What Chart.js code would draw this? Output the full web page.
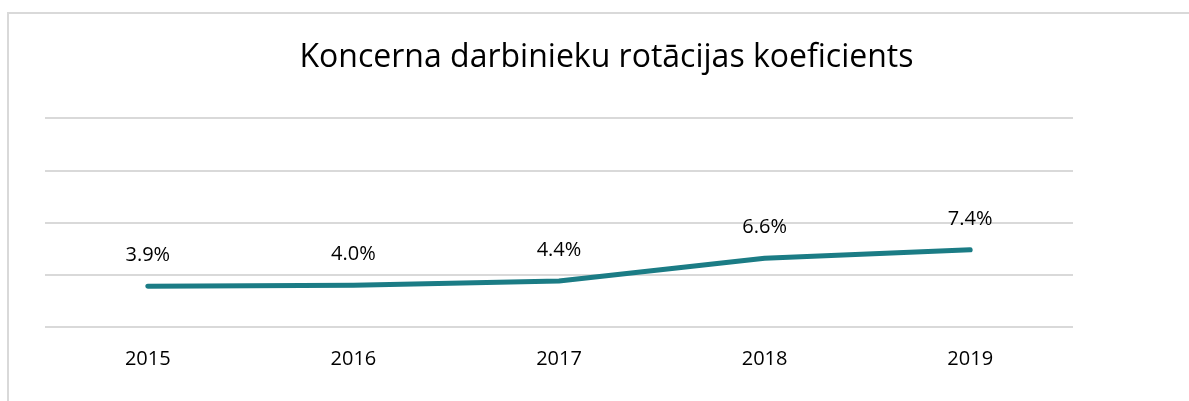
<!DOCTYPE html>
<html>
<head>
<meta charset="utf-8">
<script src="https://cdn.jsdelivr.net/npm/chart.js@4"></script>
<style>
  html, body { margin: 0; padding: 0; background: #fff; overflow: hidden; }
  #frame {
    position: absolute; left: 7px; top: 12px;
    width: 1195px; height: 389px;
    border-top: 2px solid #d9d9d9; border-left: 2px solid #d9d9d9;
  }
  #wrap { position: absolute; left: 0; top: 0; width: 1195px; height: 389px; }
</style>
</head>
<body>
<div id="frame"><div id="wrap"><canvas id="rotChart"></canvas></div></div>
<script>
// Chart data
const years = ['2015', '2016', '2017', '2018', '2019'];
const rotation = [3.9, 4.0, 4.4, 6.6, 7.4];
const yTicks = [0, 5, 10, 15, 20];

const lineColor = '#1b7c85';
const fontFamily = '"Open Sans", "Noto Sans", sans-serif';

// Simple plugin to write the value above each point
const valueLabels = {
    id: 'valueLabels',
    afterDatasetsDraw(chart) {
        const ctx = chart.ctx;
        const meta = chart.getDatasetMeta(0);
        ctx.save();
        ctx.font = '20px ' + fontFamily;
        ctx.fillStyle = '#000';
        ctx.textAlign = 'center';
        ctx.textBaseline = 'middle';
        meta.data.forEach((pt, i) => {
            ctx.fillText(rotation[i].toFixed(1) + '%', pt.x, pt.y - 31);
        });
        ctx.restore();
    }
};

new Chart(document.getElementById('rotChart').getContext('2d'), {
    type: 'line',
    data: {
        labels: years,
        datasets: [{
            label: 'Rotācijas koeficients',
            data: rotation,
            borderColor: lineColor,
            borderWidth: 5,
            borderCapStyle: 'round',
            borderJoinStyle: 'round',
            pointRadius: 0,
            tension: 0,
            fill: false
        }]
    },
    options: {
        responsive: true,
        maintainAspectRatio: false,
        animation: false,
        layout: { padding: { top: 0, bottom: 12, left: 0, right: 0 } },
        plugins: {
            legend: { display: false },
            tooltip: { enabled: false },
            title: {
                display: true,
                text: 'Koncerna darbinieku rotācijas koeficients',
                color: '#000',
                font: { family: fontFamily, size: 32, weight: 'normal' },
                padding: { top: 25, bottom: 41 }
            }
        },
        scales: {
            x: {
                offset: true,
                grid: { display: false, drawTicks: false },
                border: { display: false },
                ticks: {
                    color: '#000',
                    padding: 20,
                    font: { family: fontFamily, size: 20 }
                }
            },
            y: {
                min: 0,
                max: 20,
                afterBuildTicks: scale => { scale.ticks = yTicks.map(v => ({ value: v })); },
                afterFit: scale => { scale.width = 36; },
                grid: { color: '#d9d9d9', lineWidth: 2, drawTicks: false },
                border: { display: false },
                ticks: { display: false }
            },
            y2: {
                position: 'right',
                display: true,
                afterFit: scale => { scale.width = 131; },
                grid: { display: false, drawTicks: false },
                border: { display: false },
                ticks: { display: false }
            }
        }
    },
    plugins: [valueLabels]
});
</script>
</body>
</html>
